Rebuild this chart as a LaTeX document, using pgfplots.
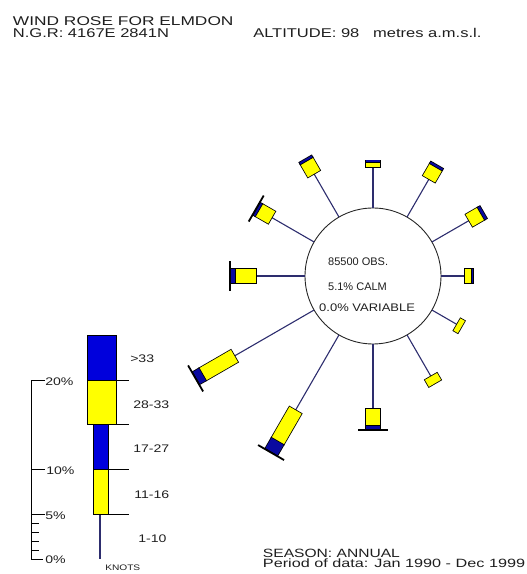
\documentclass[border=0pt]{standalone}
\usepackage{pgfplots}
\pgfplotsset{compat=1.18}
\usepackage{fontspec}
\setmainfont{Liberation Sans}
\definecolor{ryellow}{RGB}{255,255,0}
\definecolor{rblue}{RGB}{0,0,220}
\definecolor{rblued}{RGB}{10,10,160}
\definecolor{spokecol}{RGB}{45,45,110}
\definecolor{textcol}{RGB}{30,30,30}

% one outlined band along a spoke: math angle, r start, r end, width, colour
\newcommand{\seg}[5]{%
  \pgfmathsetmacro{\sA}{#2-0.8}%
  \pgfmathsetmacro{\sB}{#3+0.8}%
  \pgfmathsetmacro{\sW}{#4+1.6}%
  \edef\tmp{\noexpand\addplot[data cs=polar, draw=black, line width=\sW pt, forget plot] coordinates {(#1,\sA) (#1,\sB)};}\tmp
  \edef\tmp{\noexpand\addplot[data cs=polar, draw=#5, line width=#4pt, forget plot] coordinates {(#1,#2) (#1,#3)};}\tmp
}
% a spoke: math angle, % 1-10, % 11-16, % 17-27, cap (28-33 trace)
\newcommand{\spoke}[5]{%
  \pgfmathsetmacro{\wrA}{68+8.95*#2}%
  \pgfmathsetmacro{\wrB}{\wrA+8.95*#3}%
  \pgfmathsetmacro{\wrC}{\wrB+8.95*#4}%
  \pgfmathsetmacro{\wrD}{\wrC+1.8}%
  \edef\tmp{\noexpand\addplot[data cs=polar, draw=spokecol, line width=1.1pt, forget plot] coordinates {(#1,68) (#1,\wrA)};}\tmp
  \ifdim #3pt>0pt \seg{#1}{\wrA}{\wrB}{14}{ryellow}\fi
  \ifdim #4pt>0pt \seg{#1}{\wrB}{\wrC}{14}{rblued}\fi
  \ifnum #5=1
    \edef\tmp{\noexpand\addplot[data cs=polar, draw=black, line width=30pt, forget plot] coordinates {(#1,\wrC) (#1,\wrD)};}\tmp
  \fi
}

\tikzset{
  big/.style={anchor=base west, inner sep=0pt, xscale=1.3, text=textcol, font=\fontsize{12.7}{13}\selectfont},
  foot/.style={anchor=base west, inner sep=0pt, xscale=1.3, text=textcol, font=\fontsize{12}{13}\selectfont},
  leg/.style={anchor=base west, inner sep=0pt, xscale=1.28, text=textcol, font=\fontsize{11}{12}\selectfont},
  mid/.style={anchor=base west, inner sep=0pt, text=textcol, font=\fontsize{11}{12}\selectfont},
}

\begin{document}
\begin{tikzpicture}
\begin{axis}[
  width=527pt, height=574pt, scale only axis,
  xmin=-373, xmax=154, ymin=-298, ymax=276,
  hide axis, clip=false, no markers,
]
\coordinate (BL) at (rel axis cs:0,0);
\coordinate (TR) at (rel axis cs:1,1);

% calm circle
\draw[black!85, line width=0.9pt] (axis cs:0,0) circle[radius=68pt];

% spokes: math angle (90 = N), 1-10, 11-16, 17-27 (%), cap
\spoke{90}{4.58}{0.56}{0.17}{0}
\spoke{60}{4.92}{1.56}{0.22}{0}
\spoke{30}{4.80}{1.56}{0.28}{0}
\spoke{0}{2.68}{0.78}{0.11}{0}
\spoke{-30}{3.24}{0.56}{0}{0}
\spoke{-60}{5.36}{0.89}{0}{0}
\spoke{-90}{7.26}{1.90}{0.34}{1}
\spoke{-120}{9.72}{4.02}{1.34}{1}
\spoke{-150}{10.28}{4.13}{0.78}{1}
\spoke{180}{5.47}{2.35}{0.45}{1}
\spoke{150}{5.47}{1.68}{0.22}{1}
\spoke{120}{5.59}{1.68}{0.22}{0}

% centre text
\node[mid] at (axis cs:-45,10.7) {85500 OBS.};
\node[mid] at (axis cs:-45,-14.7) {5.1\% CALM};
\node[mid, xscale=1.18] at (axis cs:-54,-35.7) {0.0\% VARIABLE};

% legend scale
\addplot[black, line width=0.9pt] coordinates {(-342,-283) (-342,-104)};
\addplot[black, line width=0.9pt] coordinates {(-342,-283) (-330,-283)};
\addplot[black, line width=0.9pt] coordinates {(-342,-274) (-334,-274)};
\addplot[black, line width=0.9pt] coordinates {(-342,-265) (-334,-265)};
\addplot[black, line width=0.9pt] coordinates {(-342,-256) (-334,-256)};
\addplot[black, line width=0.9pt] coordinates {(-342,-247) (-334,-247)};
\addplot[black, line width=0.9pt] coordinates {(-342,-238) (-328,-238)};
\addplot[black, line width=0.9pt] coordinates {(-342,-193) (-328,-193)};
\addplot[black, line width=0.9pt] coordinates {(-342,-104) (-328,-104)};
\node[leg] at (axis cs:-328,-109.5) {20\%};
\node[leg] at (axis cs:-327,-199) {10\%};
\node[leg] at (axis cs:-328,-244) {5\%};
\node[leg] at (axis cs:-328,-288) {0\%};

% legend bar
\addplot[spokecol, line width=1.1pt] coordinates {(-273,-283) (-273,-238)};
\addplot[fill=ryellow, draw=black, line width=0.8pt] coordinates {(-280,-238) (-265,-238) (-265,-193) (-280,-193)} --cycle;
\addplot[fill=rblue, draw=black, line width=0.8pt] coordinates {(-280,-193) (-265,-193) (-265,-148) (-280,-148)} --cycle;
\addplot[fill=ryellow, draw=black, line width=0.8pt] coordinates {(-286,-148) (-257,-148) (-257,-104) (-286,-104)} --cycle;
\addplot[fill=rblue, draw=black, line width=0.8pt] coordinates {(-286,-104) (-257,-104) (-257,-59) (-286,-59)} --cycle;
\addplot[black, line width=0.8pt] coordinates {(-265,-238) (-244,-238)};
\addplot[black, line width=0.8pt] coordinates {(-265,-193) (-244,-193)};
\addplot[black, line width=0.8pt] coordinates {(-257,-148) (-244,-148)};
\addplot[black, line width=0.8pt] coordinates {(-257,-104) (-244,-104)};
\node[leg] at (axis cs:-243,-86.7) {>33};
\node[leg] at (axis cs:-240,-133) {28-33};
\node[leg] at (axis cs:-240,-177) {17-27};
\node[leg] at (axis cs:-239,-222.7) {11-16};
\node[leg] at (axis cs:-235,-267) {1-10};
\node[anchor=base west, inner sep=0pt, xscale=1.27, text=textcol, font=\fontsize{8}{9}\selectfont] at (axis cs:-268,-294.7) {KNOTS};

% header and footer
\node[big, xscale=1.05] at (axis cs:-360.3,250) {WIND ROSE FOR ELMDON};
\node[big] at (axis cs:-360.3,238.5) {N.G.R: 4167E 2841N};
\node[big] at (axis cs:-120,238.5) {ALTITUDE: 98\ \ \ metres a.m.s.l.};
\node[foot] at (axis cs:-110.3,-281.5) {SEASON: ANNUAL};
\node[foot, xscale=1.04] at (axis cs:-110.3,-292) {Period of data: Jan 1990 - Dec 1999};
\end{axis}
\pgfresetboundingbox
\path (BL) rectangle (TR);
\end{tikzpicture}
\end{document}
